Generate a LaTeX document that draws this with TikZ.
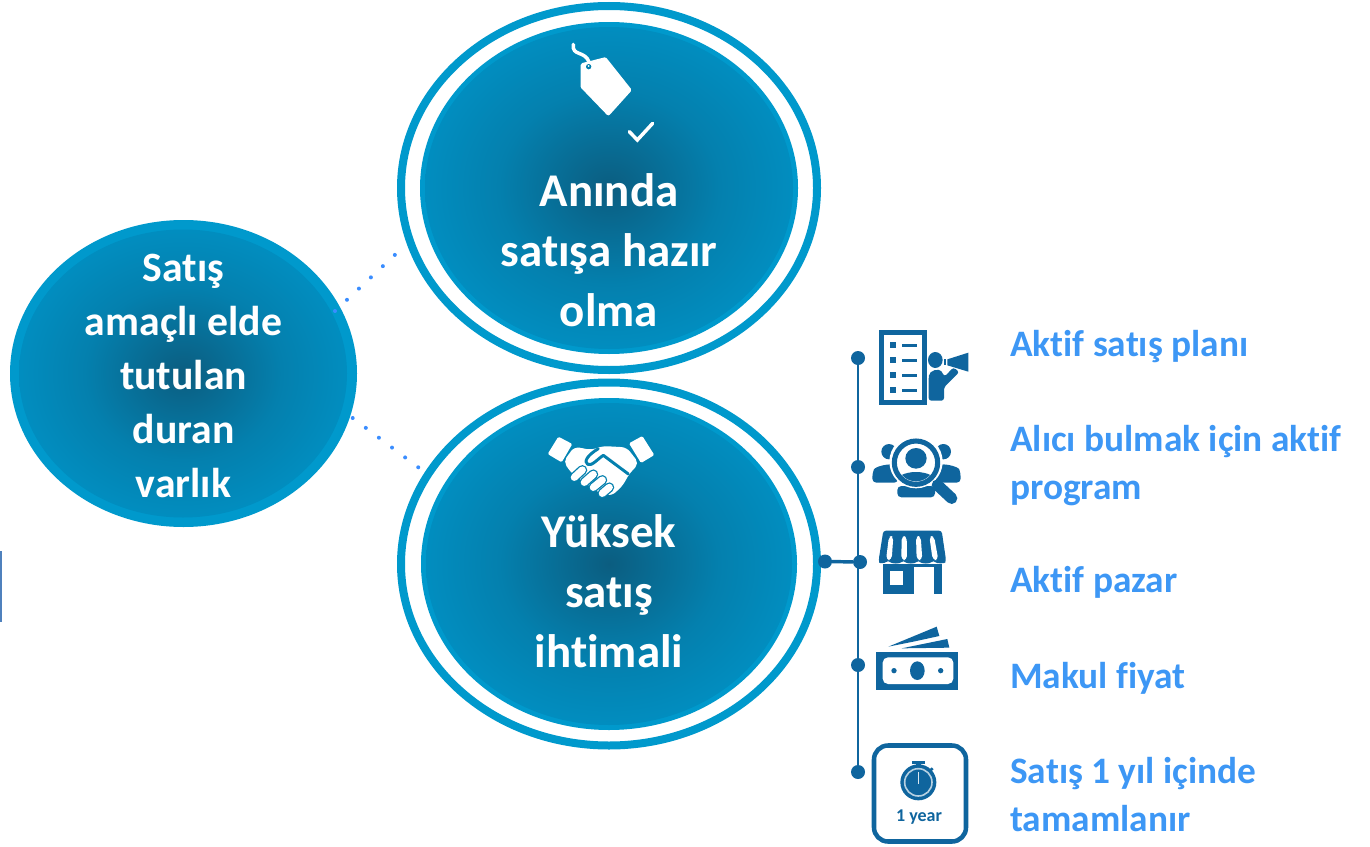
\documentclass[tikz,border=0pt]{standalone}
\usepackage{fontspec}
\setmainfont{Carlito}[Ligatures=CommonOff]
\usetikzlibrary{shapes.geometric}
\definecolor{rimblue}{HTML}{0099CC}
\definecolor{iconblue}{HTML}{0F659E}
\definecolor{labelblue}{HTML}{3D97F5}
\definecolor{dotblue}{HTML}{3A8DFF}
\definecolor{leftmark}{HTML}{4F81BD}
\definecolor{shdark}{HTML}{0B5D80}
\definecolor{shmid}{HTML}{0480AE}
\definecolor{shedge}{HTML}{0094C8}
\pgfdeclareradialshading{discshade}{\pgfpointorigin}{color(0bp)=(shdark); color(15bp)=(shmid); color(30bp)=(shedge); color(50bp)=(shedge)}
\tikzset{
 ringout/.style={ellipse,draw=rimblue,line width=6pt,fill=white,inner sep=0pt,outer sep=0pt},
 rimdisc/.style={ellipse,fill=rimblue,inner sep=0pt,outer sep=0pt},
 disc/.style={ellipse,shading=discshade,inner sep=0pt,outer sep=0pt},
 bigtext/.style={text=white,align=center,font=\fontsize{35.2}{45}\selectfont\bfseries},
 midtext/.style={text=white,align=center,font=\fontsize{31.3}{40.5}\selectfont\bfseries},
 label/.style={text=labelblue,align=left,anchor=west,inner sep=0pt,font=\fontsize{28}{36}\selectfont\bfseries},
 tdot/.style={circle,fill=iconblue,minimum size=10.5pt,inner sep=0pt,outer sep=0pt},
 dotline/.style={dotblue,line width=3pt,line cap=round,dash pattern=on 0pt off 12.3pt},
 zoomed/.style={scale=1/3},
}
\begin{document}
\begin{tikzpicture}[x=0.75pt,y=-0.75pt]
\useasboundingbox (0,0) rectangle (1370,846);
% left edge mark
\fill[leftmark] (0,551) rectangle (1.6,622);
% discs
\node[ringout,minimum width=416*0.75pt,minimum height=364*0.75pt] (topring) at (609,188) {};
\node[rimdisc,minimum width=378*0.75pt,minimum height=332*0.75pt] (toprim) at (609,188) {};
\node[disc,minimum width=368*0.75pt,minimum height=322*0.75pt] (topdisc) at (609,188) {};
\node[ringout,minimum width=416*0.75pt,minimum height=363*0.75pt] (botring) at (609,564) {};
\node[rimdisc,minimum width=376*0.75pt,minimum height=332*0.75pt] (botrim) at (609,564) {};
\node[disc,minimum width=366*0.75pt,minimum height=322*0.75pt] (botdisc) at (609,564) {};
\node[rimdisc,minimum width=347*0.75pt,minimum height=307*0.75pt] (leftrim) at (183.5,373.5) {};
\node[disc,minimum width=328*0.75pt,minimum height=288*0.75pt] (leftdisc) at (183,373.5) {};
% texts
\node[bigtext] (toptext) at (609,250) {Anında\\satışa hazır\\olma};
\node[bigtext] (bottext) at (609,591) {Yüksek\\satış\\ihtimali};
\node[midtext] (lefttext) at (183.5,375.5) {Satış\\amaçlı elde\\tutulan\\duran\\varlık};
% dotted connectors
\coordinate (d1a) at (335,311); \coordinate (d1b) at (395.5,254.3);
\coordinate (d2a) at (352.7,418); \coordinate (d2b) at (418.5,467.5);
\draw[dotline] (d1a) -- (d1b);
\draw[dotline] (d2a) -- (d2b);
% timeline
\node[tdot] (t1) at (858,358) {};
\node[tdot] (t2) at (858,467) {};
\node[tdot] (t3) at (860,562) {};
\node[tdot] (t4) at (858,665) {};
\node[tdot] (t5) at (858,772) {};
\node[tdot] (b0) at (825,561.5) {};
\draw[iconblue,line width=2pt] (t1.center) -- (t5.center);
\draw[iconblue,line width=2.6pt] (b0) -- (t3);
% labels
\node[label] (l1) at (1010,346.5) {Aktif satış planı};
\node[label] (l2) at (1010,465.5) {Alıcı bulmak için aktif\\program};
\node[label] (l3) at (1010,582.5) {Aktif pazar};
\node[label] (l4) at (1010,678) {Makul fiyat};
\node[label] (l5) at (1010,795) {Satış 1 yıl içinde\\tamamlanır};
% --- tag icon
\begin{scope}[shift={(530,30)},zoomed]
\draw[white,line width=2.6pt,line cap=round] (130,43) .. controls (125,80) and (165,60) .. (178,98);
\fill[white,draw=white,line width=3pt,line join=round] (158,105) -- (225,88) -- (298,180) -- (235,250) -- (158,170) -- cycle;
\fill[shmid] (176,110) circle (8);
\fill[white] (176,108) circle (3);
\draw[white,line width=2.6pt,line cap=round,line join=miter] (298,305) -- (322,330) -- (368,280);
\end{scope}
% --- handshake icon
\begin{scope}[shift={(545,430)},zoomed]
\fill[white,rounded corners=1pt] (8,72) -- (40,20) -- (82,42) -- (50,97) -- cycle;
\fill[white,rounded corners=1pt] (252,40) -- (292,18) -- (328,75) -- (288,99) -- cycle;
\fill[white,rounded corners=4pt] (88,50) -- (140,60) -- (172,48) -- (245,52) -- (282,100) -- (250,135) -- (235,165) -- (200,198) -- (165,190) -- (80,130) -- (55,95) -- cycle;
\draw[shmid,line width=2.2pt,line join=round,line cap=round] (160,56) .. controls (128,75) and (115,95) .. (128,103) .. controls (140,110) and (160,85) .. (175,76) -- (250,132);
\foreach \a/\b/\c/\d in {172/190/193/172, 145/172/172/150, 118/157/145/133, 88/142/112/120}{
 \draw[shmid,line width=7.4pt,line cap=round] (\a,\b) -- (\c,\d);
 \draw[white,line width=5.4pt,line cap=round] (\a,\b) -- (\c,\d);
}
\end{scope}
% --- plan icon
\begin{scope}[shift={(840,310)},zoomed]
\draw[iconblue,line width=3.7pt] (125.5,67.5) rectangle (254.5,277.5);
\foreach \y in {105,150,195,240}{
 \fill[iconblue] (150,\y-10) rectangle (167,\y+10);
 \fill[iconblue] (186,\y-4.5) rectangle (232,\y+4.5);
}
\fill[iconblue] (286,150) ellipse (22 and 24);
\fill[iconblue,rounded corners=2pt] (266,272) -- (266,205) .. controls (268,180) and (298,175) .. (308,190) -- (314,200) -- (340,172) -- (358,186) -- (312,232) -- (312,272) -- cycle;
\fill[iconblue] (322,148) -- (385,128) -- (385,185) -- (322,166) -- cycle;
\fill[iconblue] (313,148) rectangle (318,166);
\end{scope}
% --- people icon
\begin{scope}[shift={(840,310)},zoomed]
\fill[iconblue] (147,425) circle (23);
\fill[iconblue] (310,425) circle (23);
\fill[iconblue,rounded corners=3pt] (97,518) -- (97,490) .. controls (105,470) and (140,462) .. (165,465) -- (175,518) -- cycle;
\fill[iconblue,rounded corners=3pt] (362,518) -- (362,490) .. controls (355,470) and (320,462) .. (295,465) -- (285,518) -- cycle;
\fill[iconblue,rounded corners=3pt] (172,562) -- (172,528) -- (285,528) -- (285,562) -- cycle;
\fill[white] (228,455) circle (80);
\draw[iconblue,line width=3.8pt] (228,458) circle (65);
\fill[iconblue] (228,445) ellipse (32 and 31);
\begin{scope}
\clip (228,458) circle (56);
\fill[iconblue] (228,518) ellipse (62 and 32);
\end{scope}
\draw[iconblue,line width=8.5pt,line cap=round] (292,525) -- (335,565);
\end{scope}
% --- store icon
\begin{scope}[shift={(810,510)},zoomed]
\fill[iconblue,rounded corners=2pt] (220,62) -- (395,62) -- (408,150) .. controls (405,160) and (380,162) .. (370,150) .. controls (360,162) and (335,162) .. (325,150) .. controls (315,162) and (290,162) .. (280,150) .. controls (270,162) and (245,162) .. (235,150) .. controls (225,160) and (208,160) .. (206,150) -- cycle;
\foreach \ta/\tb/\ba/\bb in {237/250/228/245, 275/290/274/291, 318/332/320/337, 358/372/368/385}{
 \fill[white,rounded corners=3pt] (\ta,78) -- (\tb,78) -- (\bb,150) -- (\ba,150) -- cycle;
}
\fill[iconblue] (218,162) rectangle (396,252);
\fill[white] (240,184) rectangle (280,225);
\fill[white] (312,172) rectangle (373,252);
\end{scope}
% --- money icon
\begin{scope}[shift={(810,510)},zoomed]
\fill[iconblue] (235,410) -- (380,350) -- (388,378) -- (310,395) -- cycle;
\fill[iconblue] (275,415) -- (412,387) -- (418,413) -- cycle;
\fill[iconblue] (198,425) rectangle (445,540);
\fill[white,rounded corners=4pt] (218,442) rectangle (430,522);
\fill[iconblue] (322,482) ellipse (22 and 28);
\fill[iconblue] (252,482) circle (8);
\fill[iconblue] (392,482) circle (8);
\end{scope}
% --- timer box
\node[draw=iconblue,line width=3.4pt,rounded corners=10.5pt,fill=white,minimum width=92*0.75pt,minimum height=96*0.75pt,inner sep=0pt] (yearbox) at (920,793.5) {};
\node[text=iconblue,font=\fontsize{13.5}{15}\selectfont\bfseries,inner sep=0pt] (yeartext) at (919,817) {1 year};
\begin{scope}[shift={(840,720)},zoomed]
\fill[iconblue] (235,187) circle (54);
\draw[white!70!iconblue,line width=1.2pt] (235,187) circle (41);
\draw[white!85!iconblue,line width=1.2pt] (235,157) -- (235,192);
\fill[iconblue] (217,122) rectangle (255,132);
\fill[iconblue] (228,130) rectangle (243,140);
\draw[iconblue,line width=2pt] (270,152) -- (278,145);
\end{scope}
\end{tikzpicture}
\end{document}
